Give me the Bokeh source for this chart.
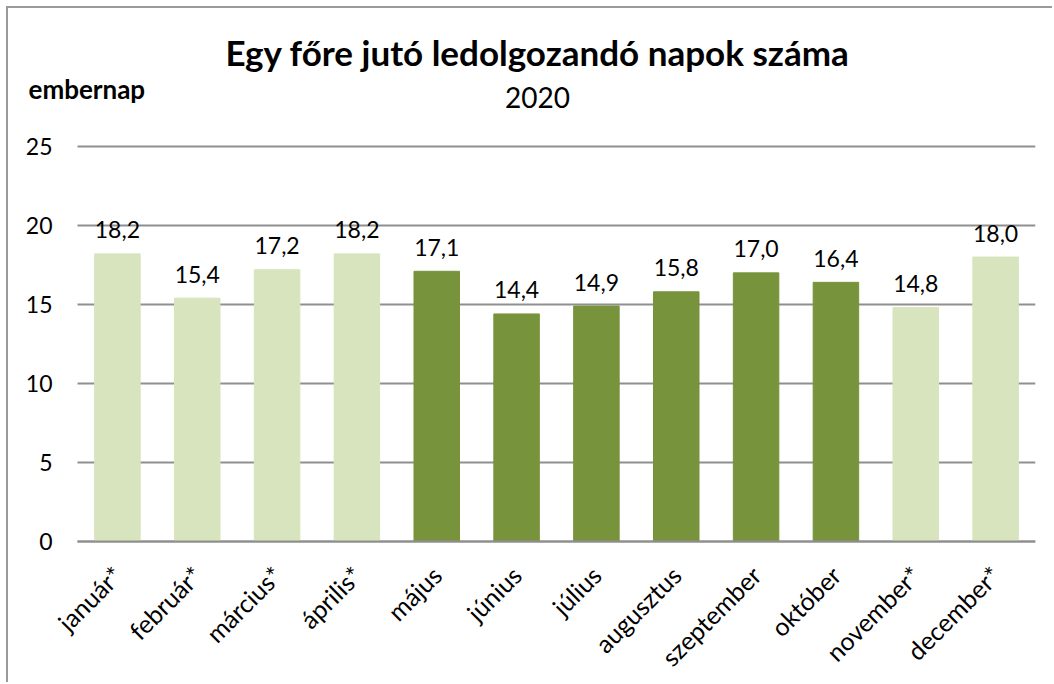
import math
from bokeh.plotting import figure
from bokeh.models import ColumnDataSource, Label, LabelSet, FixedTicker, Range1d
from bokeh.embed import file_html
from bokeh.resources import INLINE
from bokeh.core.properties import value

months = ["január*", "február*", "március*", "április*", "május", "június",
          "július", "augusztus", "szeptember", "október", "november*", "december*"]
values = [18.2, 15.4, 17.2, 18.2, 17.1, 14.4, 14.9, 15.8, 17.0, 16.4, 14.8, 18.0]
estimated = [True, True, True, True, False, False, False, False, False, False, True, True]
y_ticks = [0, 5, 10, 15, 20, 25]

LIGHT = "#D7E4BD"
DARK = "#77933C"
GRID = "#8f8f8f"
FONT = "Lato"

idx = list(range(len(months)))
colors = [LIGHT if e else DARK for e in estimated]
labels = [f"{v:.1f}".replace(".", ",") for v in values]
src = ColumnDataSource(dict(x=idx, v=values, c=colors, t=labels))

# the frame covers the whole figure so that titles and axis labels are not clipped
p = figure(x_range=Range1d(-1.239, len(months) - 0.5), y_range=Range1d(-9.05, 33.73),
           width=1046, height=676, output_backend="svg", toolbar_location=None,
           min_border_left=10, min_border_right=19, min_border_top=0, min_border_bottom=0)
p.styles = {"border-top": "2px solid #9a9a9a", "border-left": "2px solid #9a9a9a",
            "margin-left": "6px", "margin-top": "6px"}
p.outline_line_color = None

lo, hi = -0.5, len(months) - 0.5

p.xgrid.grid_line_color = None
if hasattr(p.ygrid[0], "cross_bounds"):
    p.ygrid.cross_bounds = (lo, hi)
    p.ygrid.grid_line_color = GRID
    p.ygrid.grid_line_width = 2
else:
    p.ygrid.grid_line_color = None
    p.segment(x0=[lo] * len(y_ticks), x1=[hi] * len(y_ticks), y0=y_ticks, y1=y_ticks,
              line_color=GRID, line_width=2)

p.vbar(x="x", top="v", bottom=0, width=0.57, color="c", source=src)

p.add_layout(LabelSet(x="x", y="v", text="t", source=src, text_align="center",
                      text_baseline="middle", y_offset=24, text_font=value(FONT),
                      text_font_size="23px", text_color="#000000"))

p.add_layout(Label(x=519, y=633, x_units="screen", y_units="screen",
                   text="Egy főre jutó ledolgozandó napok száma", text_align="center",
                   text_baseline="middle", text_font=FONT, text_font_style="bold",
                   text_font_size="35px", text_color="#000000"))
p.add_layout(Label(x=519, y=587, x_units="screen", y_units="screen",
                   text="2020", text_align="center", text_baseline="middle",
                   text_font=FONT, text_font_size="28px", text_color="#000000"))
p.add_layout(Label(x=10, y=596, x_units="screen", y_units="screen",
                   text="embernap", text_align="left", text_baseline="middle",
                   text_font=FONT, text_font_style="bold",
                   text_font_size="26px", text_color="#000000"))

p.yaxis.fixed_location = lo
p.yaxis.ticker = FixedTicker(ticks=y_ticks)
p.yaxis.axis_line_color = None
p.yaxis.major_tick_line_color = None
p.yaxis.minor_tick_line_color = None
p.yaxis.major_tick_out = 0
p.yaxis.major_tick_in = 0
p.yaxis.major_label_text_font = FONT
p.yaxis.major_label_text_font_size = "23px"
p.yaxis.major_label_text_color = "#000000"
p.yaxis.major_label_standoff = 25

p.xaxis.fixed_location = 0
p.xaxis.bounds = (lo, hi)
p.xaxis.ticker = FixedTicker(ticks=idx)
p.xaxis.major_label_overrides = {i: m for i, m in zip(idx, months)}
p.xaxis.axis_line_color = GRID
p.xaxis.axis_line_width = 2
p.xaxis.major_tick_line_color = None
p.xaxis.minor_tick_line_color = None
p.xaxis.major_tick_out = 0
p.xaxis.major_tick_in = 0
p.xaxis.major_label_orientation = math.pi / 4
p.xaxis.major_label_text_font = FONT
p.xaxis.major_label_text_font_size = "25px"
p.xaxis.major_label_text_color = "#000000"
p.xaxis.major_label_standoff = 29

open("out.html", "w").write(file_html(p, INLINE))
